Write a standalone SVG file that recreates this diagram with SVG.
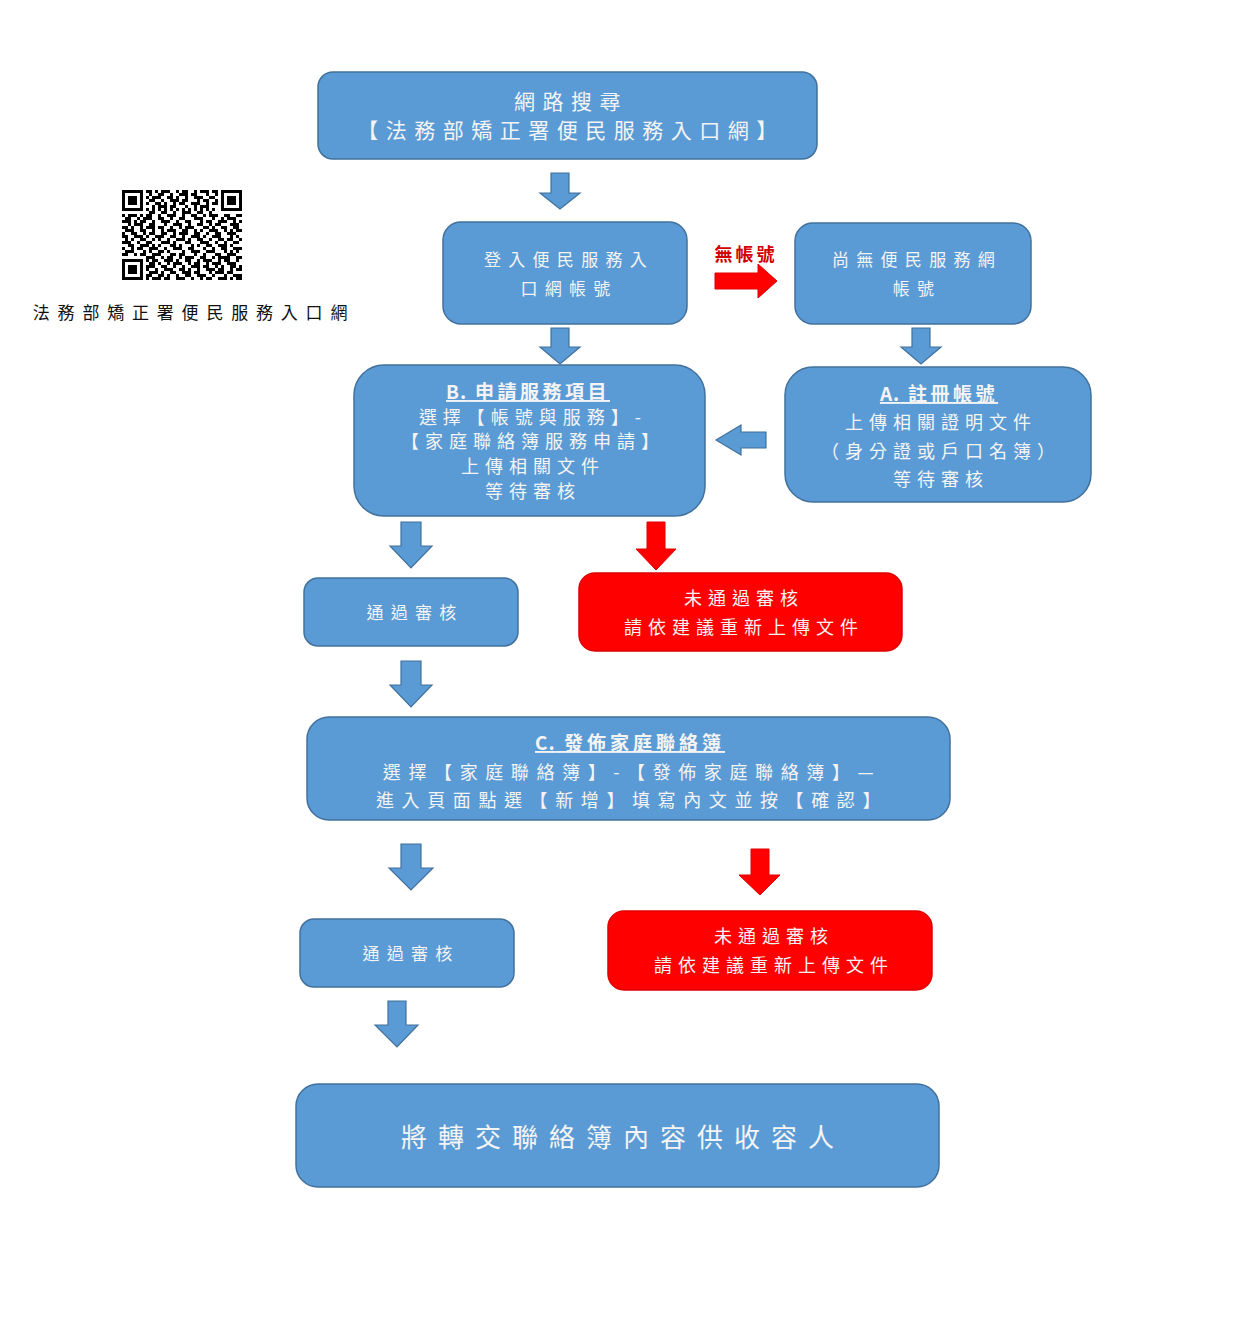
<svg xmlns="http://www.w3.org/2000/svg" width="1240" height="1333" viewBox="0 0 1240 1333">
<style>
text{font-family:"Noto Sans CJK TC","Noto Sans CJK SC",sans-serif;text-anchor:middle;fill:#F4F4F4}
.box{fill:#5B9BD5;stroke:#41719C;stroke-width:1.5}
.red{fill:#FF0000;stroke:#E00000;stroke-width:1.5}
.ab{fill:#5B9BD5;stroke:#41719C;stroke-width:1.2}
.ar{fill:#FF0000;stroke:#E00000;stroke-width:1}
.s20{font-size:21px;letter-spacing:7.5px}
.s17{font-size:17px;letter-spacing:7.3px}
.s18{font-size:18px;letter-spacing:6px}
.sc{font-size:18px;letter-spacing:7.6px}
.hd{font-size:19px;font-weight:bold;text-decoration:underline}
.lt{letter-spacing:1px}
.s26{font-size:26px;letter-spacing:11px}
</style>
<rect width="1240" height="1333" fill="#FFFFFF"/>

<g id="qr">
<g transform="translate(122 190) scale(3)" fill="#000">
<path fill-rule="evenodd" d="M0 0h7v7h-7zM1 1v5h5v-5zM2 2h3v3h-3z M33 0h7v7h-7zM34 1v5h5v-5zM35 2h3v3h-3z M0 23h7v7h-7zM1 24v5h5v-5zM2 25h3v3h-3z"/>
<path d="M8 0h2v1h-2zM11 0h1v1h-1zM13 0h3v1h-3zM18 0h1v1h-1zM20 0h2v1h-2zM24 0h1v1h-1zM26 0h3v1h-3zM30 0h2v1h-2z
M9 1h1v1h-1zM12 1h2v1h-2zM16 1h1v1h-1zM19 1h3v1h-3zM23 1h2v1h-2zM28 1h1v1h-1zM31 1h1v1h-1z
M8 2h1v1h-1zM10 2h3v1h-3zM15 2h2v1h-2zM18 2h1v1h-1zM21 2h1v1h-1zM24 2h3v1h-3zM29 2h2v1h-2z
M9 3h2v1h-2zM13 3h1v1h-1zM16 3h3v1h-3zM20 3h2v1h-2zM25 3h1v1h-1zM27 3h2v1h-2zM31 3h1v1h-1z
M8 4h1v1h-1zM11 4h2v1h-2zM14 4h1v1h-1zM17 4h1v1h-1zM19 4h2v1h-2zM23 4h3v1h-3zM28 4h1v1h-1zM30 4h2v1h-2z
M10 5h1v1h-1zM12 5h3v1h-3zM16 5h2v1h-2zM21 5h1v1h-1zM24 5h1v1h-1zM26 5h3v1h-3z
M8 6h1v1h-1zM10 6h1v1h-1zM12 6h1v1h-1zM14 6h1v1h-1zM16 6h1v1h-1zM18 6h1v1h-1zM20 6h1v1h-1zM22 6h1v1h-1zM24 6h1v1h-1zM26 6h1v1h-1zM28 6h1v1h-1zM30 6h1v1h-1z
M9 7h2v1h-2zM13 7h2v1h-2zM17 7h1v1h-1zM20 7h3v1h-3zM25 7h2v1h-2zM29 7h1v1h-1z
M0 8h1v1h-1zM2 8h3v1h-3zM6 8h1v1h-1zM8 8h2v1h-2zM12 8h1v1h-1zM15 8h3v1h-3zM20 8h1v1h-1zM23 8h2v1h-2zM27 8h1v1h-1zM29 8h3v1h-3zM34 8h2v1h-2zM38 8h2v1h-2z
M1 9h2v1h-2zM5 9h1v1h-1zM7 9h3v1h-3zM12 9h2v1h-2zM16 9h1v1h-1zM19 9h2v1h-2zM24 9h3v1h-3zM30 9h1v1h-1zM33 9h1v1h-1zM35 9h3v1h-3z
M0 10h3v1h-3zM4 10h1v1h-1zM6 10h2v1h-2zM10 10h1v1h-1zM13 10h3v1h-3zM18 10h1v1h-1zM21 10h2v1h-2zM26 10h1v1h-1zM28 10h2v1h-2zM32 10h3v1h-3zM37 10h1v1h-1zM39 10h1v1h-1z
M2 11h1v1h-1zM4 11h3v1h-3zM9 11h2v1h-2zM14 11h1v1h-1zM17 11h3v1h-3zM22 11h1v1h-1zM25 11h2v1h-2zM29 11h1v1h-1zM31 11h2v1h-2zM36 11h3v1h-3z
M0 12h2v1h-2zM3 12h1v1h-1zM6 12h1v1h-1zM8 12h3v1h-3zM12 12h2v1h-2zM16 12h1v1h-1zM19 12h1v1h-1zM21 12h3v1h-3zM27 12h2v1h-2zM30 12h1v1h-1zM33 12h2v1h-2zM37 12h2v1h-2z
M1 13h3v1h-3zM6 13h2v1h-2zM10 13h1v1h-1zM13 13h1v1h-1zM15 13h3v1h-3zM20 13h2v1h-2zM24 13h1v1h-1zM26 13h1v1h-1zM29 13h3v1h-3zM34 13h1v1h-1zM36 13h1v1h-1zM38 13h2v1h-2z
M0 14h1v1h-1zM3 14h2v1h-2zM7 14h1v1h-1zM9 14h2v1h-2zM13 14h2v1h-2zM17 14h1v1h-1zM19 14h3v1h-3zM24 14h2v1h-2zM28 14h1v1h-1zM31 14h2v1h-2zM35 14h3v1h-3z
M0 15h2v1h-2zM4 15h3v1h-3zM8 15h1v1h-1zM11 15h3v1h-3zM16 15h2v1h-2zM20 15h1v1h-1zM23 15h3v1h-3zM27 15h1v1h-1zM30 15h3v1h-3zM36 15h1v1h-1zM38 15h1v1h-1z
M1 16h1v1h-1zM3 16h1v1h-1zM6 16h2v1h-2zM10 16h1v1h-1zM12 16h1v1h-1zM15 16h1v1h-1zM18 16h3v1h-3zM22 16h1v1h-1zM25 16h2v1h-2zM29 16h1v1h-1zM32 16h2v1h-2zM35 16h2v1h-2zM39 16h1v1h-1z
M0 17h3v1h-3zM5 17h1v1h-1zM8 17h2v1h-2zM13 17h3v1h-3zM17 17h1v1h-1zM21 17h2v1h-2zM26 17h3v1h-3zM31 17h1v1h-1zM34 17h1v1h-1zM37 17h2v1h-2z
M2 18h2v1h-2zM6 18h3v1h-3zM10 18h1v1h-1zM12 18h1v1h-1zM16 18h2v1h-2zM19 18h1v1h-1zM23 18h1v1h-1zM25 18h1v1h-1zM28 18h2v1h-2zM32 18h3v1h-3zM36 18h1v1h-1z
M0 19h1v1h-1zM3 19h1v1h-1zM5 19h2v1h-2zM9 19h3v1h-3zM14 19h1v1h-1zM17 19h3v1h-3zM22 19h2v1h-2zM27 19h1v1h-1zM30 19h1v1h-1zM33 19h2v1h-2zM37 19h3v1h-3z
M1 20h3v1h-3zM7 20h1v1h-1zM9 20h1v1h-1zM12 20h2v1h-2zM15 20h1v1h-1zM20 20h1v1h-1zM23 20h3v1h-3zM28 20h3v1h-3zM34 20h1v1h-1zM36 20h1v1h-1zM38 20h1v1h-1z
M0 21h2v1h-2zM4 21h1v1h-1zM6 21h2v1h-2zM10 21h3v1h-3zM16 21h2v1h-2zM19 21h2v1h-2zM24 21h1v1h-1zM27 21h1v1h-1zM31 21h2v1h-2zM35 21h3v1h-3z
M8 22h3v1h-3zM13 22h1v1h-1zM15 22h2v1h-2zM19 22h1v1h-1zM21 22h3v1h-3zM26 22h2v1h-2zM30 22h1v1h-1zM32 22h4v1h-4zM38 22h2v1h-2z
M8 23h1v1h-1zM10 23h2v1h-2zM14 23h3v1h-3zM18 23h1v1h-1zM21 23h2v1h-2zM25 23h1v1h-1zM27 23h3v1h-3zM32 23h1v1h-1zM34 23h2v1h-2zM38 23h1v1h-1z
M9 24h2v1h-2zM12 24h1v1h-1zM15 24h1v1h-1zM17 24h3v1h-3zM22 24h1v1h-1zM24 24h2v1h-2zM28 24h1v1h-1zM30 24h3v1h-3zM35 24h3v1h-3z
M8 25h3v1h-3zM13 25h2v1h-2zM17 25h1v1h-1zM20 25h1v1h-1zM23 25h3v1h-3zM27 25h2v1h-2zM31 25h1v1h-1zM33 25h1v1h-1zM36 25h2v1h-2zM39 25h1v1h-1z
M8 26h1v1h-1zM11 26h1v1h-1zM14 26h3v1h-3zM19 26h2v1h-2zM22 26h1v1h-1zM25 26h1v1h-1zM28 26h3v1h-3zM32 26h2v1h-2zM36 26h1v1h-1zM38 26h2v1h-2z
M9 27h3v1h-3zM13 27h1v1h-1zM16 27h2v1h-2zM20 27h3v1h-3zM24 27h2v1h-2zM29 27h1v1h-1zM31 27h3v1h-3zM35 27h2v1h-2z
M8 28h2v1h-2zM12 28h2v1h-2zM15 28h1v1h-1zM18 28h1v1h-1zM21 28h2v1h-2zM25 28h3v1h-3zM30 28h1v1h-1zM34 28h1v1h-1zM37 28h3v1h-3z
M8 29h1v1h-1zM10 29h3v1h-3zM14 29h2v1h-2zM18 29h3v1h-3zM23 29h1v1h-1zM26 29h1v1h-1zM28 29h2v1h-2zM32 29h3v1h-3zM36 29h1v1h-1zM38 29h2v1h-2z"/>
</g>
<text x="194" y="318.5" style="font-size:17px;letter-spacing:7.8px;fill:#111">法務部矯正署便民服務入口網</text>
</g>

<g id="connectors">
<polygon class="ab" points="551,173 569,173 569,193 580,193 560,209 540,193 551,193"/>
<polygon class="ab" points="551,328 569,328 569,347 580,347 560,364 540,347 551,347"/>
<polygon class="ab" points="912,328 930,328 930,347 941,347 921,364 901,347 912,347"/>
<polygon class="ar" points="715,273 758,273 758,264 777,281 758,298 758,289 715,289"/>
<polygon class="ab" points="766,432 741,432 741,425 716,440 741,455 741,448 766,448"/>
<polygon class="ab" points="401,522 421,522 421,546 432,546 411,568 390,546 401,546"/>
<polygon class="ar" points="647,522 665,522 665,549 676,549 656,570 636,549 647,549"/>
<polygon class="ab" points="401,661 421,661 421,685 432,685 411,707 390,685 401,685"/>
<polygon class="ab" points="401,844 421,844 421,868 433,868 411,890 389,868 401,868"/>
<polygon class="ar" points="751,849 769,849 769,875 780,875 760,895 739,875 751,875"/>
<polygon class="ab" points="388,1001 406,1001 406,1025 418,1025 397,1047 375,1025 388,1025"/>
<text x="746" y="261" style="font-size:18px;letter-spacing:3px;fill:#D00000;font-weight:bold">無帳號</text>
</g>

<g id="n-search">
<rect class="box" x="318" y="72" width="499" height="87" rx="15"/>
<text class="s20" x="571" y="108.5">網路搜尋</text>
<text class="s20" x="571" y="137.5">【法務部矯正署便民服務入口網】</text>
</g>

<g id="n-login">
<rect class="box" x="443" y="222" width="244" height="102" rx="18"/>
<text class="s17" x="569" y="265.5">登入便民服務入</text>
<text class="s17" x="569" y="294.5">口網帳號</text>
</g>

<g id="n-noacct">
<rect class="box" x="795" y="223" width="236" height="101" rx="18"/>
<text class="s17" x="917" y="265.5">尚無便民服務網</text>
<text class="s17" x="917" y="294.5">帳號</text>
</g>

<g id="n-b">
<rect class="box" x="354" y="365" width="351" height="151" rx="30"/>
<text class="hd" x="528" y="399"><tspan class="lt">B.</tspan><tspan style="letter-spacing:3.5px"> 申請服務項目</tspan></text>
<text class="s18" x="533" y="424">選擇【帳號與服務】-</text>
<text class="s18" x="533" y="448">【家庭聯絡簿服務申請】</text>
<text class="s18" x="533" y="473">上傳相關文件</text>
<text class="s18" x="533" y="498">等待審核</text>
</g>

<g id="n-a">
<rect class="box" x="785" y="367" width="306" height="135" rx="28"/>
<text class="hd" x="939" y="401"><tspan class="lt">A.</tspan><tspan style="letter-spacing:3.5px"> 註冊帳號</tspan></text>
<text class="s18" x="941" y="429">上傳相關證明文件</text>
<text class="s18" x="941" y="458">（身分證或戶口名簿）</text>
<text class="s18" x="941" y="486">等待審核</text>
</g>

<g id="n-pass1">
<rect class="box" x="304" y="578" width="214" height="68" rx="14"/>
<text class="s17" x="415" y="618.5">通過審核</text>
</g>

<g id="n-fail1">
<rect class="red" x="579" y="573" width="323" height="78" rx="16"/>
<text class="s18" x="744" y="605">未通過審核</text>
<text class="s18" x="744" y="634">請依建議重新上傳文件</text>
</g>

<g id="n-c">
<rect class="box" x="307" y="717" width="643" height="103" rx="22"/>
<text class="hd" x="630" y="750"><tspan class="lt">C.</tspan><tspan style="letter-spacing:4px"> 發佈家庭聯絡簿</tspan></text>
<text class="sc" x="632" y="779">選擇【家庭聯絡簿】-【發佈家庭聯絡簿】—</text>
<text class="sc" x="632" y="807">進入頁面點選【新增】填寫內文並按【確認】</text>
</g>

<g id="n-pass2">
<rect class="box" x="300" y="919" width="214" height="68" rx="14"/>
<text class="s17" x="411" y="959.5">通過審核</text>
</g>

<g id="n-fail2">
<rect class="red" x="608" y="911" width="324" height="79" rx="16"/>
<text class="s18" x="774" y="943">未通過審核</text>
<text class="s18" x="774" y="972">請依建議重新上傳文件</text>
</g>

<g id="n-final">
<rect class="box" x="296" y="1084" width="643" height="103" rx="22"/>
<text class="s26" x="623" y="1147">將轉交聯絡簿內容供收容人</text>
</g>
</svg>
